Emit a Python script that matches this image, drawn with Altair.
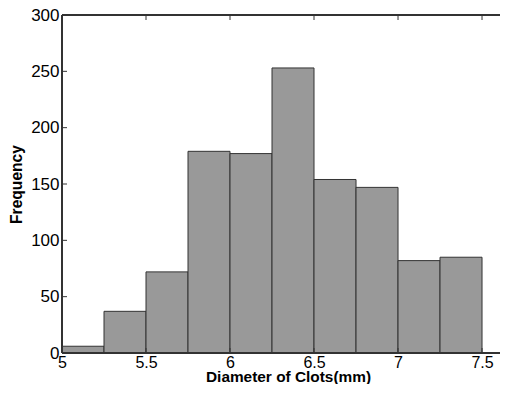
import altair as alt
import pandas as pd

bin_start = [5.0, 5.25, 5.5, 5.75, 6.0, 6.25, 6.5, 6.75, 7.0, 7.25]
bin_end = [5.25, 5.5, 5.75, 6.0, 6.25, 6.5, 6.75, 7.0, 7.25, 7.5]
counts = [6, 37, 72, 179, 177, 253, 154, 147, 82, 85]
x_ticks = [5, 5.5, 6, 6.5, 7, 7.5]
y_ticks = [0, 50, 100, 150, 200, 250, 300]

W, H = 438, 338
X_DOMAIN = [5, 7.607]
Y_DOMAIN = [0, 300]

df = pd.DataFrame({"start": bin_start, "end": bin_end, "count": counts})
xt = pd.DataFrame({"v": x_ticks})
yt = pd.DataFrame({"v": y_ticks})

xs = alt.Scale(domain=X_DOMAIN, nice=False, zero=False)
ys = alt.Scale(domain=Y_DOMAIN, nice=False)

AX = "#333333"

bars = alt.Chart(df).mark_rect(fill="#999999", stroke=AX, strokeWidth=1).encode(
    x=alt.X("start:Q", scale=xs,
            axis=alt.Axis(values=x_ticks, format="~g", ticks=False, grid=False, domain=False,
                          labelFontSize=16, labelPadding=1.5, labelColor="#000000",
                          labelFont="Liberation Sans",
                          title="Diameter of Clots(mm)", titleFontSize=15.4, titleFont="Liberation Sans",
                          titleFontWeight="bold", titleBaseline="alphabetic", titleY=28.5,
                          titleColor="#000000",
                          titleX=226, labelFlush=False, labelOverlap=False)),
    x2="end:Q",
    y=alt.Y("count:Q", scale=ys,
            axis=alt.Axis(values=y_ticks, ticks=False, grid=False, domain=False,
                          labelFontSize=17, labelPadding=3, labelColor="#000000",
                          labelFont="Liberation Sans",
                          title="Frequency", titleFontSize=15.6, titleFont="Liberation Sans",
                          titleFontWeight="bold", titlePadding=6, titleColor="#000000",
                          labelFlush=False, labelOverlap=False)),
    y2=alt.datum(0),
)

top_border = alt.Chart(xt).mark_rule(color=AX, strokeWidth=1.5).encode(
    x=alt.value(0), x2=alt.value(W), y=alt.value(0)
)
bottom_border = alt.Chart(xt).mark_rule(color=AX, strokeWidth=1.5).encode(
    x=alt.value(0), x2=alt.value(W), y=alt.value(H)
)
left_border = alt.Chart(xt).mark_rule(color=AX, strokeWidth=1.5).encode(
    x=alt.value(0), y=alt.value(0), y2=alt.value(H)
)

top_ticks = alt.Chart(xt).mark_rule(color=AX, strokeWidth=1).encode(
    x=alt.X("v:Q", scale=xs), y=alt.value(0), y2=alt.value(5)
)
bot_ticks = alt.Chart(xt).mark_rule(color=AX, strokeWidth=1).encode(
    x=alt.X("v:Q", scale=xs), y=alt.value(H), y2=alt.value(H - 5)
)
left_ticks = alt.Chart(yt).mark_rule(color=AX, strokeWidth=1).encode(
    y=alt.Y("v:Q", scale=ys), x=alt.value(0), x2=alt.value(5)
)

chart = alt.layer(bars, top_border, bottom_border, left_border,
                  top_ticks, bot_ticks, left_ticks).properties(
    width=W, height=H,
    autosize=alt.AutoSizeParams(type="none"),
    padding={"left": 54, "top": 7, "right": 0, "bottom": 31},
).configure_view(strokeWidth=0, stroke="transparent")

chart.save("out.html", embed_options={"renderer": "svg", "actions": False})
